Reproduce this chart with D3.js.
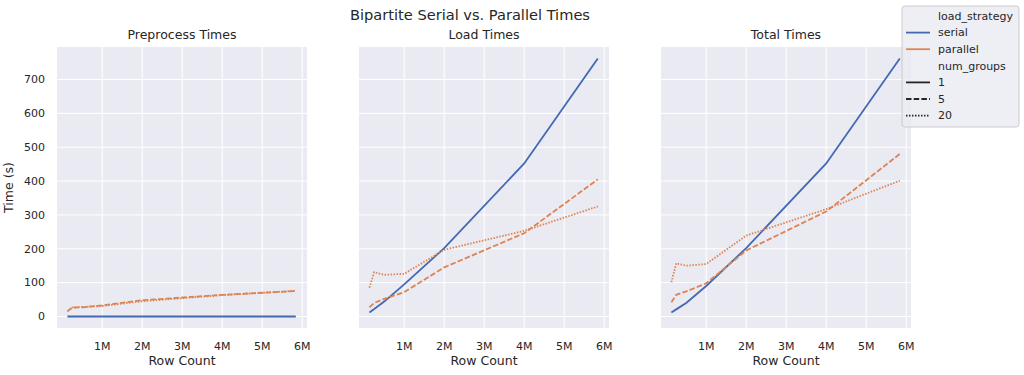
<!DOCTYPE html>
<html>
<head>
<meta charset="utf-8">
<script src="https://cdn.jsdelivr.net/npm/d3@7"></script>
<style>
  body { margin: 0; background: #fff; }
  svg text { font-family: "DejaVu Sans", sans-serif; fill: #262626; }
</style>
</head>
<body>
<svg id="chart" width="1024" height="375"></svg>
<script>
// data
const rowCounts = [130000, 250000, 500000, 1000000, 2000000, 4000000, 5840000];
const panelTitles = ["Preprocess Times", "Load Times", "Total Times"];
const strategies = ["serial", "parallel"];
const groupLabels = ["1", "5", "20"];
const xTicks = [1e6, 2e6, 3e6, 4e6, 5e6, 6e6];
const xTickLabels = ["1M", "2M", "3M", "4M", "5M", "6M"];
const yTicks = [0, 100, 200, 300, 400, 500, 600, 700];

const serialPreprocess = [0, 0, 0, 0, 0, 0, 0];
const parallel5Preprocess = [15, 26, 27, 33, 48, 64, 75];
const parallel20Preprocess = [16, 27, 28, 31, 45, 63, 76];

const serialLoad = [12, 22, 44, 95, 202, 452, 762];
const parallel5Load = [27, 40, 52, 72, 145, 246, 405];
const parallel20Load = [85, 131, 123, 126, 197, 253, 325];

const serialTotal = [12, 21, 40, 90, 202, 452, 762];
const parallel5Total = [42, 64, 74, 98, 195, 310, 480];
const parallel20Total = [101, 157, 150, 155, 239, 317, 401];

const COLORS = { serial: "#4369b0", parallel: "#dd8452" };
const DASHES = { "1": null, "5": "5.5,2.2", "20": "1.5,1.5" };

// one entry per panel, each with its three series
const panels = [
  [["serial", "1", serialPreprocess], ["parallel", "5", parallel5Preprocess], ["parallel", "20", parallel20Preprocess]],
  [["serial", "1", serialLoad], ["parallel", "5", parallel5Load], ["parallel", "20", parallel20Load]],
  [["serial", "1", serialTotal], ["parallel", "5", parallel5Total], ["parallel", "20", parallel20Total]]
];

const svg = d3.select("#chart");
const PANEL_X = [57, 359, 661];
const TOP = 47, BOTTOM = 328, W = 250;

const x = d3.scaleLinear().domain([-0.13e6, 6.12e6]).range([0, W]);
const y = d3.scaleLinear().domain([-34, 796]).range([BOTTOM - TOP, 0]);

const line = d3.line()
  .x(d => x(d[0]))
  .y(d => y(d[1]));

svg.append("text")
  .attr("x", 470).attr("y", 20)
  .attr("text-anchor", "middle")
  .style("font-size", "14.6px")
  .text("Bipartite Serial vs. Parallel Times");

panels.forEach((series, i) => {
  const g = svg.append("g").attr("transform", `translate(${PANEL_X[i]},${TOP})`);

  g.append("rect")
    .attr("width", W).attr("height", BOTTOM - TOP)
    .attr("fill", "#eaeaf2");

  // grid
  g.selectAll(".vgrid").data(xTicks).join("line")
    .attr("x1", d => x(d)).attr("x2", d => x(d))
    .attr("y1", 0).attr("y2", BOTTOM - TOP)
    .attr("stroke", "#fff").attr("stroke-width", 1);
  g.selectAll(".hgrid").data(yTicks).join("line")
    .attr("x1", 0).attr("x2", W)
    .attr("y1", d => y(d)).attr("y2", d => y(d))
    .attr("stroke", "#fff").attr("stroke-width", 1);

  // x tick labels
  g.selectAll(".xt").data(xTicks).join("text")
    .attr("x", d => x(d)).attr("y", BOTTOM - TOP + 22)
    .attr("text-anchor", "middle")
    .style("font-size", "11px")
    .text((d, k) => xTickLabels[k]);

  g.append("text")
    .attr("x", W / 2).attr("y", BOTTOM - TOP + 37)
    .attr("text-anchor", "middle")
    .style("font-size", "12.5px")
    .text("Row Count");

  g.append("text")
    .attr("x", W / 2).attr("y", -8)
    .attr("text-anchor", "middle")
    .style("font-size", "12.5px")
    .text(panelTitles[i]);

  if (i === 0) {
    g.selectAll(".yt").data(yTicks).join("text")
      .attr("x", -12).attr("y", d => y(d))
      .attr("dy", "0.35em")
      .attr("text-anchor", "end")
      .style("font-size", "11px")
      .text(d => d);
    g.append("text")
      .attr("transform", `translate(-44,${(BOTTOM - TOP) / 2}) rotate(-90)`)
      .attr("text-anchor", "middle")
      .style("font-size", "12.5px")
      .text("Time (s)");
  }

  series.forEach(([strategy, groups, values]) => {
    const pts = rowCounts.map((r, k) => [r, values[k]]);
    g.append("path")
      .datum(pts)
      .attr("d", line)
      .attr("fill", "none")
      .attr("stroke", COLORS[strategy])
      .attr("stroke-width", 1.8)
      .attr("stroke-dasharray", DASHES[groups]);
  });
});

// legend
const lg = svg.append("g").attr("transform", "translate(902,6)");
lg.append("rect")
  .attr("width", 117).attr("height", 121)
  .attr("rx", 3)
  .attr("fill", "#eaeaf2").attr("fill-opacity", 0.8)
  .attr("stroke", "#cccccc").attr("stroke-width", 1);

const legendRows = [
  { label: "load_strategy" },
  { label: strategies[0], color: COLORS.serial, dash: null },
  { label: strategies[1], color: COLORS.parallel, dash: null },
  { label: "num_groups" },
  { label: groupLabels[0], color: "#262626", dash: DASHES["1"] },
  { label: groupLabels[1], color: "#262626", dash: DASHES["5"] },
  { label: groupLabels[2], color: "#262626", dash: DASHES["20"] }
];

legendRows.forEach((r, k) => {
  const yy = 10 + k * 16.6;
  if (r.color) {
    lg.append("line")
      .attr("x1", 4).attr("x2", 28)
      .attr("y1", yy).attr("y2", yy)
      .attr("stroke", r.color).attr("stroke-width", 1.8)
      .attr("stroke-dasharray", r.dash);
  }
  lg.append("text")
    .attr("x", 36).attr("y", yy)
    .attr("dy", "0.35em")
    .style("font-size", "11px")
    .text(r.label);
});
</script>
</body>
</html>
